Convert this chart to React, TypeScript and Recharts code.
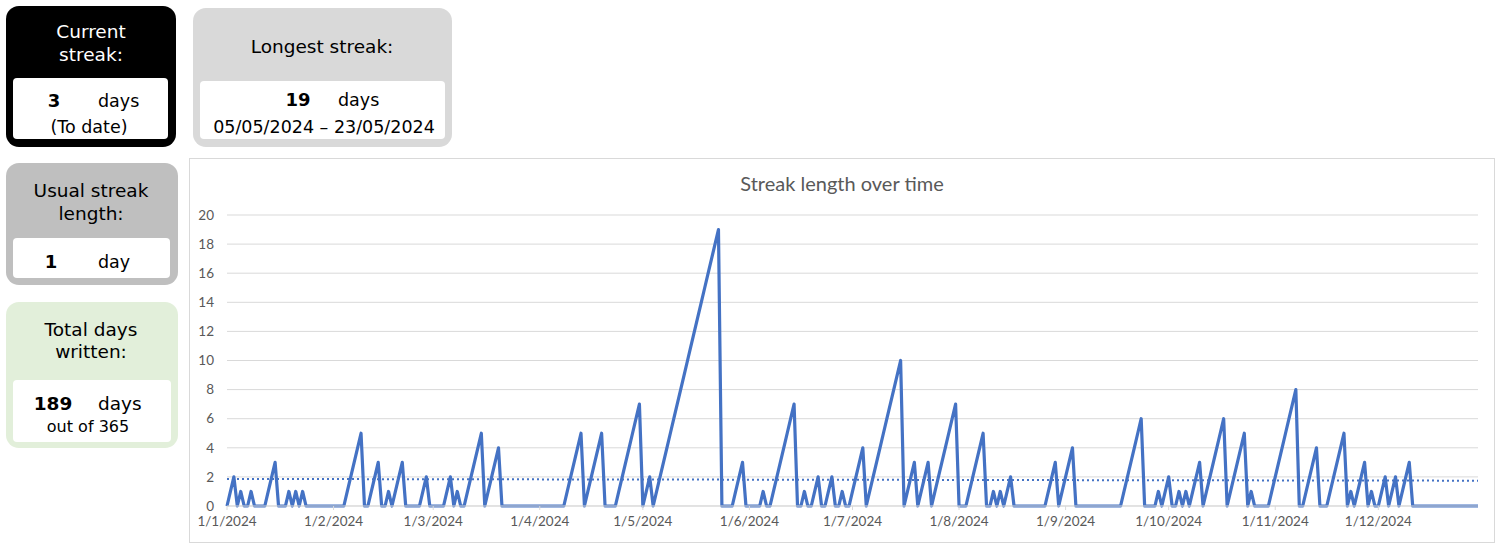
import { LineChart, Line, XAxis, YAxis, CartesianGrid } from 'recharts';

// daily streak length, one array per month of 2024 (365 days tracked)
const jan = [0, 1, 2, 0, 1, 0, 0, 1, 0, 0, 0, 0, 1, 2, 3, 0, 0, 0, 1, 0, 1, 0, 1, 0, 0, 0, 0, 0, 0, 0, 0];
const feb = [0, 0, 0, 0, 1, 2, 3, 4, 5, 0, 0, 1, 2, 3, 0, 0, 1, 0, 1, 2, 3, 0, 0, 0, 0, 0, 1, 2, 0];
const mar = [0, 0, 0, 0, 1, 2, 0, 1, 0, 0, 1, 2, 3, 4, 5, 0, 1, 2, 3, 4, 0, 0, 0, 0, 0, 0, 0, 0, 0, 0, 0];
const apr = [0, 0, 0, 0, 0, 0, 0, 0, 1, 2, 3, 4, 5, 0, 1, 2, 3, 4, 5, 0, 0, 0, 0, 1, 2, 3, 4, 5, 6, 7];
const may = [0, 1, 2, 0, 1, 2, 3, 4, 5, 6, 7, 8, 9, 10, 11, 12, 13, 14, 15, 16, 17, 18, 19, 0, 0, 0, 0, 1, 2, 3, 0];
const jun = [0, 0, 0, 0, 1, 0, 0, 1, 2, 3, 4, 5, 6, 7, 0, 0, 1, 0, 0, 1, 2, 0, 0, 1, 2, 0, 0, 1, 0, 0];
const jul = [1, 2, 3, 4, 0, 1, 2, 3, 4, 5, 6, 7, 8, 9, 10, 0, 1, 2, 3, 0, 1, 2, 3, 0, 1, 2, 3, 4, 5, 6, 7];
const aug = [0, 0, 0, 1, 2, 3, 4, 5, 0, 0, 1, 0, 1, 0, 1, 2, 0, 0, 0, 0, 0, 0, 0, 0, 0, 0, 1, 2, 3, 0, 1];
const sep = [2, 3, 4, 0, 0, 0, 0, 0, 0, 0, 0, 0, 0, 0, 0, 0, 0, 1, 2, 3, 4, 5, 6, 0, 0, 0, 0, 1, 0, 1];
const oct = [2, 0, 0, 1, 0, 1, 0, 1, 2, 3, 0, 1, 2, 3, 4, 5, 6, 0, 1, 2, 3, 4, 5, 0, 1, 0, 0, 0, 0, 0, 1];
const nov = [2, 3, 4, 5, 6, 7, 8, 0, 0, 1, 2, 3, 4, 0, 0, 0, 1, 2, 3, 4, 5, 0, 1, 0, 1, 2, 3, 0, 1, 0];
const dec = [0, 1, 2, 0, 1, 2, 0, 1, 2, 3, 0, 0, 0, 0, 0, 0, 0, 0, 0, 0, 0, 0, 0, 0, 0, 0, 0, 0, 0, 0];

const months = [jan, feb, mar, apr, may, jun, jul, aug, sep, oct, nov, dec];
const tickLabels = ['1/1/2024', '1/2/2024', '1/3/2024', '1/4/2024', '1/5/2024', '1/6/2024',
  '1/7/2024', '1/8/2024', '1/9/2024', '1/10/2024', '1/11/2024', '1/12/2024'];
const yTicks = [0, 2, 4, 6, 8, 10, 12, 14, 16, 18, 20];
// linear trendline value at first and last day
const trendEnds = [1.86, 1.74];

type Row = { date: string; streak: number; trend?: number };
const data: Row[] = months.flatMap((vals, m) =>
  vals.map((v, d) => ({ date: `${d + 1}/${m + 1}/2024`, streak: v })));
data[0].trend = trendEnds[0];
data[data.length - 1].trend = trendEnds[1];

const BLUE = '#4472C4';
const CARD_FONT = '"DejaVu Sans", Verdana, sans-serif';

const abs = (left: number, top: number, w: number, h: number): React.CSSProperties => ({
  position: 'absolute', left, top, width: w, height: h,
});

function Txt({ x, y, size, bold, color, align, children }: {
  x: number; y: number; size: number; bold?: boolean; color?: string; align?: 'center' | 'left'; children: React.ReactNode;
}) {
  const style: React.CSSProperties = {
    position: 'absolute', top: y - size * 0.6, fontSize: size, lineHeight: `${size * 1.2}px`,
    fontWeight: bold ? 'bold' : 'normal', color: color ?? '#000', whiteSpace: 'nowrap',
  };
  if (align === 'left') style.left = x;
  else { style.left = x - 200; style.width = 400; style.textAlign = 'center'; }
  return <div style={style}>{children}</div>;
}

export default function App() {
  return (
    <div style={{ position: 'absolute', left: 0, top: 0, width: 1500, height: 547, fontFamily: CARD_FONT, background: '#fff' }}>
      {/* current streak */}
      <div style={{ ...abs(6, 6, 170, 141), background: '#000', borderRadius: 13 }} />
      <div style={{ ...abs(13, 78, 155, 61), background: '#fff', borderRadius: 4 }} />
      <Txt x={91} y={32} size={18.5} color="#fff">Current</Txt>
      <Txt x={91} y={55} size={18.5} color="#fff">streak:</Txt>
      <Txt x={54} y={101} size={18} bold>3</Txt>
      <Txt x={98} y={101} size={17.5} align="left">days</Txt>
      <Txt x={89} y={127} size={17.5}>(To date)</Txt>

      {/* longest streak */}
      <div style={{ ...abs(193, 8, 259, 139), background: '#d9d9d9', borderRadius: 13 }} />
      <div style={{ ...abs(200, 81, 245, 58), background: '#fff', borderRadius: 4 }} />
      <Txt x={322} y={47} size={18.5}>Longest streak:</Txt>
      <Txt x={298} y={100} size={18} bold>19</Txt>
      <Txt x={338} y={100} size={17.5} align="left">days</Txt>
      <Txt x={324} y={127} size={17.5}>05/05/2024 – 23/05/2024</Txt>

      {/* usual streak length */}
      <div style={{ ...abs(6, 163, 172, 122), background: '#bfbfbf', borderRadius: 13 }} />
      <div style={{ ...abs(13, 238, 157, 40), background: '#fff', borderRadius: 4 }} />
      <Txt x={91} y={191} size={18.5}>Usual streak</Txt>
      <Txt x={91} y={214} size={18.5}>length:</Txt>
      <Txt x={51} y={262} size={18} bold>1</Txt>
      <Txt x={98} y={262} size={17.5} align="left">day</Txt>

      {/* total days written */}
      <div style={{ ...abs(6, 302, 172, 146), background: '#e2efda', borderRadius: 13 }} />
      <div style={{ ...abs(13, 380, 158, 62), background: '#fff', borderRadius: 4 }} />
      <Txt x={91} y={330} size={18.5}>Total days</Txt>
      <Txt x={91} y={352} size={18.5}>written:</Txt>
      <Txt x={53} y={404} size={18.5} bold>189</Txt>
      <Txt x={98} y={404} size={18.5} align="left">days</Txt>
      <Txt x={88} y={427} size={16}>out of 365</Txt>

      {/* chart */}
      <div style={{ ...abs(189, 158, 1306, 385), border: '1px solid #d9d9d9', boxSizing: 'border-box', fontFamily: 'Lato, sans-serif' }}>
        <div style={{ position: 'absolute', left: 0, right: 0, top: 12, textAlign: 'center', fontSize: 20, color: '#595959' }}>
          Streak length over time
        </div>
        <LineChart width={1304} height={383} data={data} margin={{ top: 56, right: 16, bottom: 6, left: 0 }}>
          <CartesianGrid vertical={false} stroke="#d9d9d9" strokeWidth={1} />
          <XAxis
            dataKey="date"
            ticks={tickLabels}
            interval={0}
            height={30}
            tickSize={4}
            tickMargin={6}
            stroke="#d9d9d9"
            tick={{ fill: '#595959', fontSize: 13.5, fontFamily: 'Lato, sans-serif' }}
          />
          <YAxis
            width={37}
            domain={[0, 20]}
            ticks={yTicks}
            axisLine={false}
            tickLine={false}
            tickSize={0}
            tickMargin={13}
            tick={{ fill: '#595959', fontSize: 13.5, fontFamily: 'Lato, sans-serif' }}
          />
          <Line
            type="linear"
            dataKey="streak"
            stroke={BLUE}
            strokeWidth={3.2}
            dot={false}
            activeDot={false}
            isAnimationActive={false}
            strokeLinejoin="round"
          />
          <Line
            type="linear"
            dataKey="trend"
            stroke={BLUE}
            strokeWidth={2}
            strokeDasharray="2 3"
            connectNulls
            dot={false}
            activeDot={false}
            isAnimationActive={false}
          />
        </LineChart>
      </div>
    </div>
  );
}
